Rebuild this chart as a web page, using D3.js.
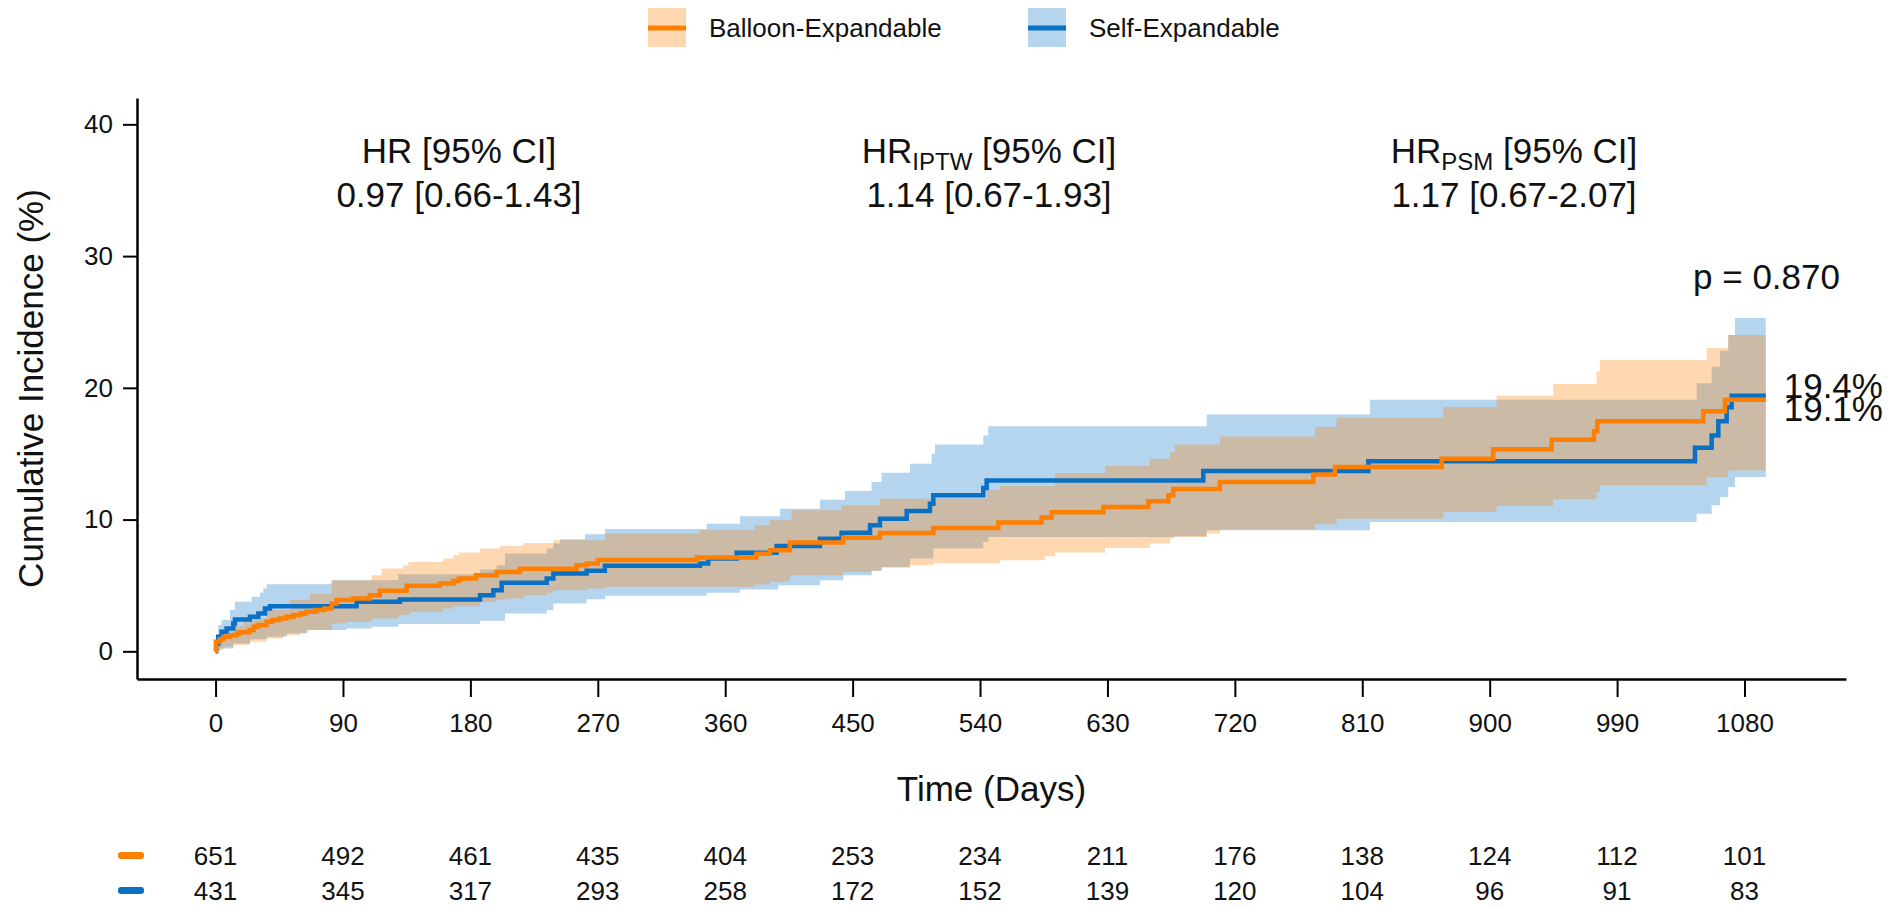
<!DOCTYPE html>
<html>
<head>
<meta charset="utf-8">
<script src="https://cdn.jsdelivr.net/npm/d3@7"></script>
<style>
    body { margin: 0; background: #fff; }
    svg { display: block; font-family: "Liberation Sans", Arial, sans-serif; }
</style>
</head>
<body>
<svg id="chart" width="1901" height="907"></svg>
<script>
// ---- data ----
const groups = ["Balloon-Expandable", "Self-Expandable"];
const xTicks = [0, 90, 180, 270, 360, 450, 540, 630, 720, 810, 900, 990, 1080];
const yTicks = [0, 10, 20, 30, 40];
const endDay = 1095;

const atRiskBE = [651, 492, 461, 435, 404, 253, 234, 211, 176, 138, 124, 112, 101];
const atRiskSE = [431, 345, 317, 293, 258, 172, 152, 139, 120, 104, 96, 91, 83];

// [day, cumulative incidence %]
const beLine = [[0,0],[0.3,0.73],[3,0.91],[5.5,1.11],[10,1.23],[15,1.36],[17,1.44],[24,1.61],[27,1.87],[30,1.99],[36,2.24],[40,2.37],[45,2.5],[50,2.62],[55,2.75],[60,2.88],[64,3.0],[71,3.13],[77,3.26],[82,3.64],[85.5,3.89],[97,4.01],[109,4.26],[116,4.59],[135,4.97],[158.5,5.15],[168,5.35],[172,5.53],[184,5.78],[198.5,6.03],[215,6.26],[255,6.54],[262,6.66],[270,6.94],[340,7.12],[382,7.4],[391.6,7.67],[405.7,8.26],[443.4,8.63],[469.3,8.98],[507,9.36],[552.9,9.77],[583.5,10.15],[590.6,10.55],[627.1,10.96],[658.9,11.39],[673,11.84],[676.5,12.32],[709.5,12.85],[775.4,13.43],[790.7,13.99],[866.1,14.62],[902.5,15.33],[943.8,16.06],[973.7,16.71],[976,17.47],[1050.9,18.23],[1066.2,19.1]];
const beUpper = [[0,0],[0.5,1.3],[5,1.6],[12,1.9],[20,2.2],[27,2.5],[36,3.13],[52.6,3.89],[66.7,4.39],[82,5.4],[110.2,5.78],[117.3,6.29],[132.6,6.54],[136.1,6.79],[160.8,7.04],[167.9,7.3],[171.5,7.5],[186.8,7.8],[200.9,8.0],[217.4,8.23],[238.6,8.43],[275.1,8.94],[342.1,9.19],[381,9.57],[391.6,9.95],[406.9,10.71],[442.2,11.08],[469.3,11.59],[544.7,12.22],[554.1,12.55],[593,13.53],[628.3,14.06],[660,14.59],[674.2,15.12],[677.7,15.7],[709.5,16.31],[776.6,17.02],[791.9,17.73],[867.2,18.53],[904.9,19.42],[944.9,20.3],[975.5,21.26],[977.9,22.12],[1053.2,23.03],[1068.5,24.01]];
const beLower = [[0,0],[1,0.1],[5.5,0.35],[12.5,0.48],[24.3,0.73],[36.1,0.98],[47.9,1.23],[59.6,1.41],[65.5,1.61],[82,2.12],[92.6,2.24],[110.2,2.5],[129.1,2.75],[137.3,3.0],[160.8,3.26],[167.9,3.43],[186.8,3.76],[198.5,3.89],[204.4,4.01],[217.4,4.26],[233.9,4.44],[238.6,4.64],[262.1,4.77],[275.1,4.9],[381,5.08],[391.6,5.28],[405.7,5.78],[443.4,6.03],[463.4,6.11],[470.5,6.34],[490.5,6.54],[507,6.66],[554.1,6.92],[585.9,7.22],[593,7.5],[628.3,7.85],[660,8.18],[674.2,8.56],[677.7,8.68],[700.1,8.94],[709.5,9.24],[776.6,9.64],[791.9,10.07],[867.2,10.58],[904.9,11.03],[944.9,11.54],[975.5,12.09],[977.9,12.6],[1053.2,13.23],[1068.5,13.73]];

const seLine = [[0,0],[0.4,0.6],[1.9,1.11],[4.3,1.49],[7.8,1.74],[12.5,2.12],[13.7,2.42],[24.3,2.62],[30.2,2.88],[34.9,3.26],[38.4,3.43],[99.6,3.76],[130.2,3.94],[186.8,4.26],[196.2,4.64],[202.1,5.2],[233.9,5.53],[238.6,5.91],[262.1,6.11],[275,6.49],[342.1,6.66],[348,7.04],[368.1,7.49],[396.3,8.0],[426.9,8.55],[442.2,9.0],[462.3,9.57],[469.3,10.07],[488.2,10.65],[504.6,11.2],[507,11.84],[542.3,12.4],[544.7,12.97],[697.7,13.68],[814.3,14.43],[1045,15.45],[1056.8,16.39],[1061.5,17.47],[1067.4,18.53],[1070.9,19.4]];
const seUpper = [[0,0],[0.5,1.2],[1.9,2.0],[4.3,2.37],[10.2,3.13],[13.7,3.76],[25.5,4.14],[31.4,4.44],[33.7,4.77],[36.1,5.1],[82,5.4],[129,5.86],[186.8,6.21],[198.5,6.54],[204.4,7.42],[233.9,7.8],[238.6,8.18],[243.3,8.51],[261,8.89],[275.1,9.29],[346.9,9.69],[370.4,10.25],[398.7,10.83],[426.9,11.51],[444.6,12.17],[463.4,12.85],[470.5,13.56],[490.5,14.24],[505.8,15.0],[508.2,15.7],[542.3,16.39],[545.8,17.09],[700.1,17.98],[815.4,19.09],[1046.2,20.35],[1056.8,21.61],[1062.7,22.82],[1068.5,24.01],[1073.3,25.3]];
const seLower = [[0,0],[3.1,0.22],[12.5,0.6],[24.3,0.91],[36.1,1.11],[50.2,1.36],[64.3,1.61],[92.6,1.74],[110.2,1.87],[129.1,2.07],[186.8,2.32],[204.4,2.88],[233.9,3.13],[238.6,3.63],[262.1,3.96],[275.1,4.21],[346.9,4.44],[370.4,4.7],[397.5,5.02],[426.9,5.4],[443.4,5.78],[463.4,6.11],[470.5,6.41],[490.5,7.04],[507,7.8],[542.3,8.3],[545.8,8.68],[676.5,8.73],[700.1,9.19],[815.4,9.82],[1046.2,10.45],[1056.8,11.08],[1062.7,11.71],[1068.5,12.47],[1073.3,13.23]];

const finalLabels = ["19.1%", "19.4%"];
const hrTitles = [["HR", "", " [95% CI]"], ["HR", "IPTW", " [95% CI]"], ["HR", "PSM", " [95% CI]"]];
const hrValues = ["0.97 [0.66-1.43]", "1.14 [0.67-1.93]", "1.17 [0.67-2.07]"];
const pText = "p = 0.870";

// ---- setup ----
const colors = ["#ff7f00", "#0a70c4"];
const bandOpacity = 0.3;
const textColor = "#111";

const svg = d3.select("#chart");
const x = d3.scaleLinear().domain([-55.5, 1151.7]).range([137, 1846]);
const y = d3.scaleLinear().domain([-2.1, 42]).range([679, 98]);

const series = [
    { name: groups[0], color: colors[0], line: beLine, lower: beLower, upper: beUpper, atRisk: atRiskBE, label: finalLabels[0] },
    { name: groups[1], color: colors[1], line: seLine, lower: seLower, upper: seUpper, atRisk: atRiskSE, label: finalLabels[1] }
];

// value of a step function at time t
function stepAt(arr, t) {
    let v = arr[0][1];
    for (const p of arr) {
        if (p[0] <= t) v = p[1];
        else break;
    }
    return v;
}

function bandData(lower, upper) {
    let ts = Array.from(new Set([...lower.map(d => d[0]), ...upper.map(d => d[0]), endDay])).sort((a, b) => a - b);
    return ts.map(t => ({ t: t, lo: stepAt(lower, t), hi: stepAt(upper, t) }));
}

const area = d3.area()
    .curve(d3.curveStepAfter)
    .x(d => x(d.t))
    .y0(d => y(d.lo))
    .y1(d => y(d.hi));

const line = d3.line()
    .curve(d3.curveStepAfter)
    .x(d => x(d[0]))
    .y(d => y(d[1]));

// bands: self-expandable underneath, balloon on top
const plot = svg.append("g");
[series[1], series[0]].forEach(s => {
    plot.append("path")
        .attr("d", area(bandData(s.lower, s.upper)))
        .attr("fill", s.color)
        .attr("fill-opacity", bandOpacity);
});
[series[1], series[0]].forEach(s => {
    let pts = s.line.concat([[endDay, s.line[s.line.length - 1][1]]]);
    plot.append("path")
        .attr("d", line(pts))
        .attr("fill", "none")
        .attr("stroke", s.color)
        .attr("stroke-width", 4.5);
});

// ---- axes ----
const xAxis = svg.append("g")
    .attr("transform", "translate(0,679)")
    .call(d3.axisBottom(x).tickValues(xTicks).tickFormat(d3.format("d"))
        .tickSize(18).tickPadding(17).tickSizeOuter(0));
const yAxis = svg.append("g")
    .attr("transform", "translate(137,0)")
    .call(d3.axisLeft(y).tickValues(yTicks).tickFormat(d3.format("d"))
        .tickSize(14).tickPadding(10).tickSizeOuter(0));

[xAxis, yAxis].forEach(a => {
    a.select(".domain").attr("stroke", "#000").attr("stroke-width", 2.5);
    a.selectAll(".tick line").attr("stroke", "#000").attr("stroke-width", 2);
    a.selectAll(".tick text")
        .attr("fill", textColor)
        .style("font-size", "26px")
        .style("font-family", "'Liberation Sans', Arial, sans-serif");
});

svg.append("text")
    .attr("x", (x.range()[0] + x.range()[1]) / 2)
    .attr("y", 801)
    .attr("text-anchor", "middle")
    .attr("fill", textColor)
    .style("font-size", "35px")
    .text("Time (Days)");

svg.append("text")
    .attr("transform", "translate(43," + ((y.range()[0] + y.range()[1]) / 2) + ") rotate(-90)")
    .attr("text-anchor", "middle")
    .attr("fill", textColor)
    .style("font-size", "35px")
    .text("Cumulative Incidence (%)");

// ---- hazard ratio annotations ----
const hrCenters = [459, 989, 1514];
hrTitles.forEach((parts, i) => {
    let t = svg.append("text")
        .attr("x", hrCenters[i])
        .attr("y", 163)
        .attr("text-anchor", "middle")
        .attr("fill", textColor)
        .style("font-size", "35px");
    t.append("tspan").text(parts[0]);
    if (parts[1]) {
        t.append("tspan").attr("dy", 7).style("font-size", "24px").text(parts[1]);
        t.append("tspan").attr("dy", -7).text(parts[2]);
    } else {
        t.append("tspan").text(parts[2]);
    }
    svg.append("text")
        .attr("x", hrCenters[i])
        .attr("y", 207)
        .attr("text-anchor", "middle")
        .attr("fill", textColor)
        .style("font-size", "35px")
        .text(hrValues[i]);
});

svg.append("text")
    .attr("x", 1840)
    .attr("y", 289)
    .attr("text-anchor", "end")
    .attr("fill", textColor)
    .style("font-size", "35px")
    .text(pText);

// end-of-curve percentages (they overlap in the original too)
const labelShift = [21, 2];
series.forEach((s, i) => {
    svg.append("text")
        .attr("x", x(endDay) + 18)
        .attr("y", y(s.line[s.line.length - 1][1]) + labelShift[i])
        .attr("fill", textColor)
        .style("font-size", "35px")
        .text(s.label);
});

// ---- legend ----
const legendX = [648, 1028];
series.forEach((s, i) => {
    let g = svg.append("g").attr("transform", "translate(" + legendX[i] + ",8)");
    g.append("rect")
        .attr("width", 38).attr("height", 39)
        .attr("fill", s.color).attr("fill-opacity", bandOpacity);
    g.append("line")
        .attr("x1", 0).attr("x2", 38)
        .attr("y1", 20).attr("y2", 20)
        .attr("stroke", s.color).attr("stroke-width", 5);
    g.append("text")
        .attr("x", 61).attr("y", 29)
        .attr("fill", textColor)
        .style("font-size", "26px")
        .text(s.name);
});

// ---- number at risk table ----
const rowBase = [865, 900];
series.forEach((s, i) => {
    svg.append("rect")
        .attr("x", 118).attr("y", rowBase[i] - 13)
        .attr("width", 26).attr("height", 7).attr("rx", 3)
        .attr("fill", s.color);
    svg.append("g").selectAll("text")
        .data(s.atRisk)
        .enter()
        .append("text")
        .attr("x", (d, j) => x(xTicks[j]))
        .attr("y", rowBase[i])
        .attr("text-anchor", "middle")
        .attr("fill", textColor)
        .style("font-size", "26px")
        .text(d => d);
});
</script>
</body>
</html>
